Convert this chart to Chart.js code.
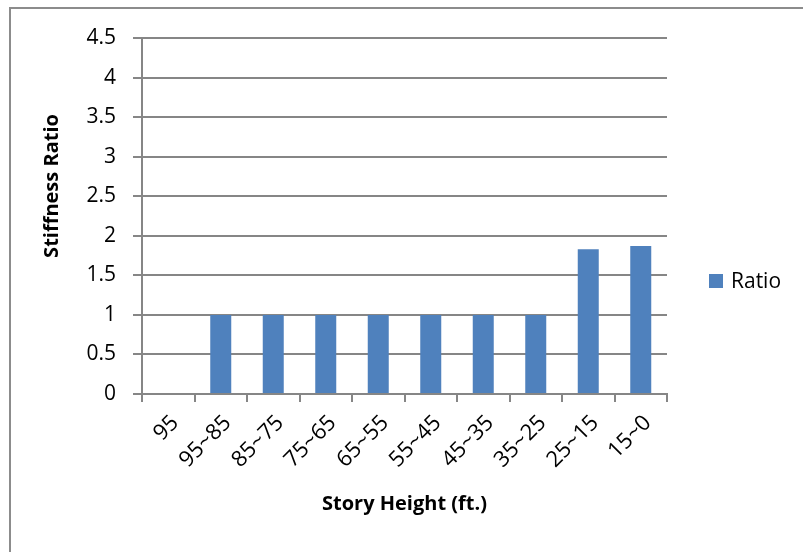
<!DOCTYPE html>
<html>
<head>
<meta charset="utf-8">
<title>Stiffness Ratio</title>
<script src="https://cdn.jsdelivr.net/npm/chart.js@4"></script>
<style>
  html, body { margin: 0; padding: 0; background: #fff; }
  #wrap { position: relative; width: 803px; height: 552px; overflow: hidden; }
  #frame {
    position: absolute; left: 9px; top: 7px; width: 820px; height: 580px;
    border-left: 2px solid #8c8c8c; border-top: 2px solid #8c8c8c;
    box-sizing: border-box;
  }
  canvas { position: absolute; left: 0; top: 0; }
</style>
</head>
<body>
<div id="wrap">
  <div id="frame"></div>
  <canvas id="chart" width="803" height="552"></canvas>
</div>
<script>
const storyLabels = ["95", "95~85", "85~75", "75~65", "65~55", "55~45", "45~35", "35~25", "25~15", "15~0"];
const ratioValues = [0, 1, 1, 1, 1, 1, 1, 1, 1.83, 1.87];
const seriesName = "Ratio";
const yAxisName = "Stiffness Ratio";
const xAxisName = "Story Height (ft.)";
const yTicks = { min: 0, max: 4.5, step: 0.5 };

const FONT = "'Open Sans', 'DejaVu Sans', sans-serif";
const BAR_COLOR = "#4f81bd";
const AXIS_GRAY = "#868686";

// legend and y title drawn by hand so they sit a bit off the default spots
const sideLabels = {
  id: "sideLabels",
  afterDraw(chart) {
    const ctx = chart.ctx;
    const ds = chart.data.datasets[0];
    ctx.save();
    ctx.fillStyle = ds.backgroundColor;
    ctx.fillRect(709, 274, 14, 14);
    ctx.fillStyle = "#000";
    ctx.font = "21px " + FONT;
    ctx.textBaseline = "middle";
    ctx.fillText(ds.label, 731, 282);

    ctx.translate(52, 186);
    ctx.rotate(-Math.PI / 2);
    ctx.font = "bold 20px " + FONT;
    ctx.textAlign = "center";
    ctx.fillText(yAxisName, 0, 0);
    ctx.restore();
  }
};

new Chart(document.getElementById("chart"), {
  type: "bar",
  data: {
    labels: storyLabels,
    datasets: [{
      label: seriesName,
      data: ratioValues,
      backgroundColor: BAR_COLOR,
      borderWidth: 0,
      categoryPercentage: 0.4,
      barPercentage: 1
    }]
  },
  options: {
    responsive: false,
    animation: false,
    layout: { padding: { top: 38, right: 136, left: 0, bottom: 0 } },
    plugins: {
      legend: { display: false },
      tooltip: { enabled: false }
    },
    scales: {
      x: {
        offset: true,
        afterFit(scale) { scale.height = 158; },
        grid: {
          offset: true,
          drawOnChartArea: false,
          drawTicks: true,
          tickLength: 8,
          color: AXIS_GRAY,
          lineWidth: 2
        },
        border: { color: AXIS_GRAY, width: 2 },
        ticks: {
          color: "#000",
          font: { family: FONT, size: 22 },
          minRotation: 45,
          maxRotation: 45,
          autoSkip: false,
          padding: 8,
          labelOffset: 7
        },
        title: {
          display: true,
          text: xAxisName,
          color: "#000",
          font: { family: FONT, size: 20, weight: "bold" },
          padding: { top: 0, bottom: 36 }
        }
      },
      y: {
        min: yTicks.min,
        max: yTicks.max,
        afterFit(scale) { scale.width = 142; },
        grid: {
          color: AXIS_GRAY,
          lineWidth: 2,
          drawTicks: true,
          tickLength: 9
        },
        border: { color: AXIS_GRAY, width: 2 },
        ticks: {
          stepSize: yTicks.step,
          color: "#000",
          font: { family: FONT, size: 21 },
          padding: 17,
          callback: (v) => String(v)
        }
      }
    }
  },
  plugins: [sideLabels]
});
</script>
</body>
</html>
